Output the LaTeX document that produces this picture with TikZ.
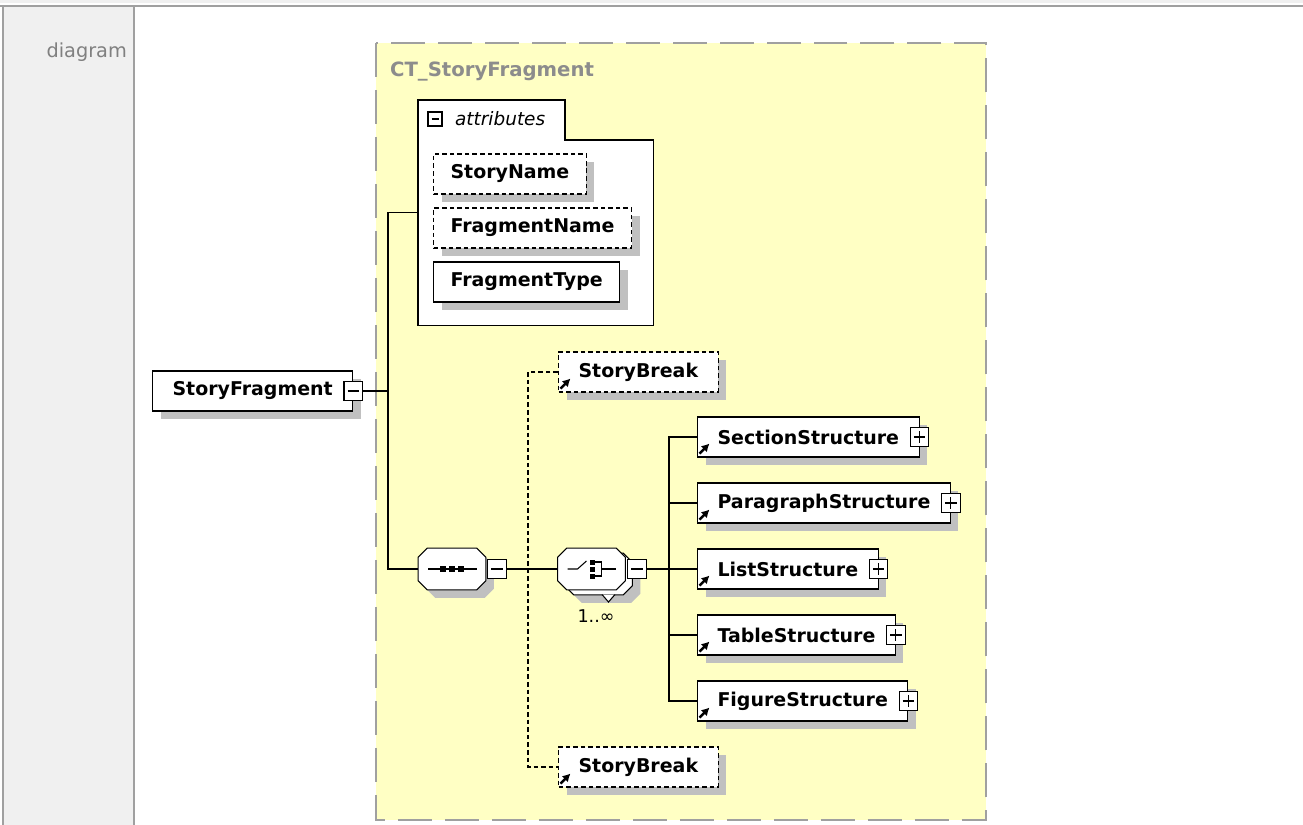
\documentclass[tikz,border=0pt]{standalone}
\usepackage{fontspec}
\setmainfont{DejaVu Sans}
\usetikzlibrary{shadows,arrows.meta,calc}
\definecolor{framegray}{HTML}{A0A0A0}
\definecolor{panelgray}{HTML}{F0F0F0}
\definecolor{typeyellow}{HTML}{FFFFC4}
\definecolor{shadegray}{HTML}{C0C0C0}
\definecolor{titlegray}{HTML}{8C8C8C}
% octagon outline round a compositor node
\newcommand{\octo}[2][]{\path[#1]
  ($(#2.north west)+(9,0)$) -- ($(#2.north east)+(-9,0)$) -- ($(#2.north east)+(0,9)$) --
  ($(#2.south east)+(0,-9)$) -- ($(#2.south east)+(-9,0)$) -- ($(#2.south west)+(9,0)$) --
  ($(#2.south west)+(0,-9)$) -- ($(#2.north west)+(0,9)$) -- cycle;}

\begin{document}
\begin{tikzpicture}[
  x=0.02cm, y=-0.02cm,
  every node/.style={inner sep=1pt},
  shade/.style={drop shadow={shadow xshift=0.16cm, shadow yshift=-0.16cm, fill=shadegray, opacity=1}},
  elem/.style={draw, fill=white, line width=0.6pt, shade, anchor=west,
    font=\fontsize{10.8}{12}\selectfont\bfseries,
    minimum height=0.8cm, inner xsep=0.4cm, inner ysep=0pt},
  optelem/.style={elem, dash pattern=on 2.6pt off 1.7pt},
  attr/.style={elem, inner xsep=0.34cm},
  optattr/.style={attr, dash pattern=on 2.6pt off 1.7pt},
  compbox/.style={minimum width=1.34cm, minimum height=0.82cm, inner sep=0pt},
  octline/.style={draw, fill=white, line width=0.6pt},
  octshade/.style={fill=shadegray, transform canvas={xshift=0.16cm, yshift=-0.16cm}},
  toggle/.style={draw, fill=white, line width=0.6pt, minimum size=0.37cm, inner sep=0pt},
  minusbox/.style={toggle, path picture={
    \draw ([xshift=0.07cm]path picture bounding box.west) -- ([xshift=-0.07cm]path picture bounding box.east);}},
  plusbox/.style={toggle, path picture={
    \draw ([xshift=0.07cm]path picture bounding box.west) -- ([xshift=-0.07cm]path picture bounding box.east);
    \draw ([yshift=-0.07cm]path picture bounding box.north) -- ([yshift=0.07cm]path picture bounding box.south);}},
  smallminus/.style={minusbox, minimum size=0.28cm},
  conn/.style={draw, line width=0.6pt},
  dashconn/.style={conn, dash pattern=on 2.6pt off 1.7pt},
  refarrow/.style={draw, line width=1.4pt, -{Latex[length=4.5pt,width=5pt]}},
  typeframe/.style={draw=framegray, fill=typeyellow, line width=1.2pt, dash pattern=on 0.68cm off 0.26cm}]

  % page frame
  \useasboundingbox (0,0) rectangle (1303,825);
  \fill[panelgray] (0,0) rectangle (1303,3);
  \fill[panelgray] (3,6) rectangle (134,825);
  \draw[framegray, line width=1.2pt] (0,6) -- (1303,6) (3,6) -- (3,825) (134,6) -- (134,825);
  \node[anchor=east, text=gray, font=\fontsize{11}{13}\selectfont] (lbl) at (129,52) {diagram};

  % complex type
  \draw[typeframe] (376,43) rectangle (986,820);
  \node[anchor=west, text=titlegray, font=\fontsize{11.2}{13}\selectfont\bfseries] (ctname) at (388,72) {CT\_StoryFragment};

  % attributes
  \node[anchor=north west, minimum width=4.7cm, minimum height=4.5cm, inner sep=0pt] (attrs) at (418,100) {};
  \draw[conn, fill=white] (attrs.north west) -- ++(147,0) -- ++(0,40) -| (attrs.south east) -- (attrs.south west) -- cycle;
  \node[smallminus] (attm) at (435,119) {};
  \node[anchor=west, font=\fontsize{10.5}{12}\selectfont\itshape] (atttxt) at (453,119) {attributes};
  \node[optattr] (sname) at (433,174) {StoryName};
  \node[optattr] (fname) at (433,228) {FragmentName};
  \node[attr]    (ftype) at (433,282) {FragmentType};

  % element and compositors
  \node[elem] (sf) at (152,391) {StoryFragment};
  \node[minusbox] (sfm) at (sf.east) {};
  \node[compbox] (seq) at (452,569) {};
  \octo[octshade]{seq}
  \octo[octline]{seq}
  \node[minusbox] (seqm) at (497,569) {};
  \node[compbox] (choiceback) at (598.5,574) {};
  \octo[octshade]{choiceback}
  \octo[octline]{choiceback}
  \draw[conn, fill=white] (602,594.5) -- (608.5,602) -- (615,594.5);
  \node[compbox] (choice) at (591.5,569) {};
  \octo[octline]{choice}
  \node[minusbox] (choicem) at (637,569) {};
  \node[font=\fontsize{10}{12}\selectfont] (card) at (596,616) {1..∞};

  % sequence and choice symbols
  \begin{scope}[shift={(seq.center)}]
    \draw[conn] (-24,0) -- (25,0);
    \foreach \dx in {-9,0,9} \fill (\dx-3,-3) rectangle (\dx+3,3);
  \end{scope}
  \begin{scope}[shift={(choice.center)}]
    \draw[conn] (-24,0) -- (-14,0) -- (-5,-8);
    \foreach \dy in {-7,0,7} \fill (-1.5,\dy-2.5) rectangle (3.5,\dy+2.5);
    \draw[conn] (3.5,-7) -- (10,-7) -- (10,7) -- (3.5,7) (10,0) -- (24,0);
  \end{scope}

  % children
  \node[optelem] (sb1) at (558,372) {StoryBreak};
  \node[optelem] (sb2) at (558,767) {StoryBreak};
  \node[elem] (sec)   at (697,437) {SectionStructure};
  \node[elem] (para)  at (697,503) {ParagraphStructure};
  \node[elem] (list)  at (697,569) {ListStructure};
  \node[elem] (table) at (697,635) {TableStructure};
  \node[elem] (fig)   at (697,701) {FigureStructure};
  \foreach \el in {sec,para,list,table,fig} \node[plusbox] (\el p) at (\el.east) {};
  \foreach \el in {sb1,sb2,sec,para,list,table,fig}
    \draw[refarrow] ([shift={(0.05cm,0.08cm)}]\el.south west) -- ++(0.2cm,0.2cm);

  % connectors
  \coordinate (bus1) at (388,391);
  \coordinate (sbbus) at (528,569);
  \coordinate (bus2) at (669,569);
  \draw[conn] (sfm.east) -- (bus1);
  \draw[conn] (attrs.west) -| (bus1) |- (seq.west);
  \draw[conn] (seqm.east) -- (choice.west);
  \draw[dashconn] (sb1.west) -| (sbbus) |- (sb2.west);
  \draw[conn] (choicem.east) -- (bus2);
  \foreach \el in {sec,para,list,table,fig} \draw[conn] (bus2) |- (\el.west);
\end{tikzpicture}
\end{document}
